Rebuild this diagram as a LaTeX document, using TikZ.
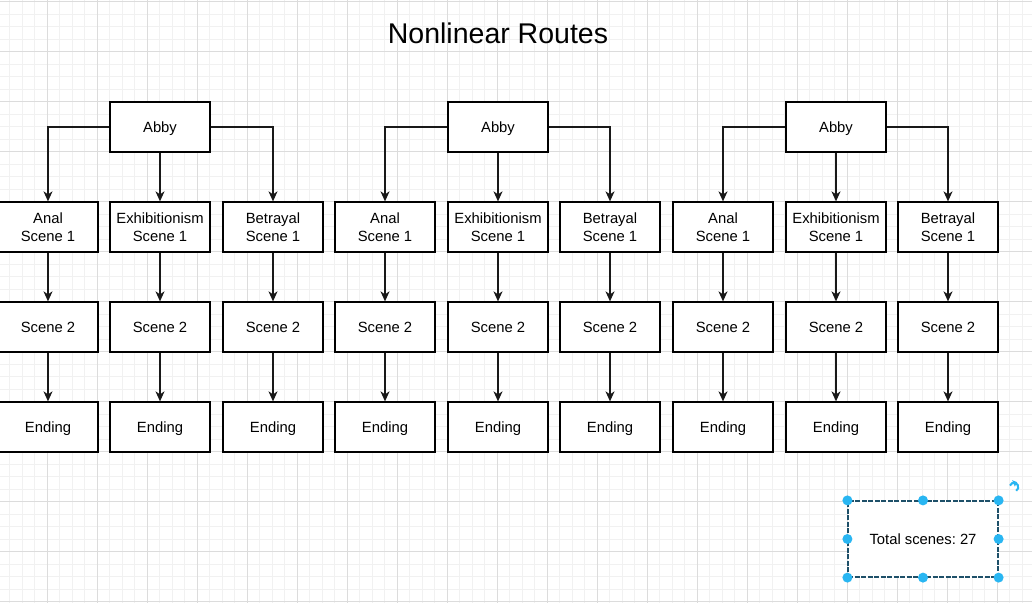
\documentclass[tikz,border=0pt]{standalone}
\usepackage{fontspec}
\setmainfont{Liberation Sans}
\usetikzlibrary{arrows.meta}
\frenchspacing
\definecolor{minorgrid}{RGB}{241,241,241}
\definecolor{majorgrid}{RGB}{220,220,220}
\definecolor{handle}{RGB}{41,182,242}
\definecolor{selborder}{RGB}{30,80,105}
\tikzset{
  box/.style={draw=black, line width=1.3pt, fill=white, minimum width=100pt, minimum height=50pt,
    inner sep=0pt, align=center, font=\fontsize{14.8}{17.6}\selectfont},
  single/.style={text height=13.4pt, text depth=3.1pt},
  conn/.style={line width=1.3pt, draw=black!90, -{Stealth[length=10pt,width=9pt,inset=3pt]}},
  hdl/.style={circle, fill=handle, minimum size=10pt, inner sep=0pt},
  titletext/.style={font=\fontsize{28.5}{34}\selectfont, inner sep=0pt},
}
\begin{document}
\begin{tikzpicture}[x=1pt,y=-1pt]
\useasboundingbox (0,0) rectangle (1032,603);
\fill[white] (0,0) rectangle (1032,603);
% grid
\foreach \i in {0,...,84} {\draw[minorgrid, line width=0.8pt] ({-2.7+12.5*\i},0) -- ({-2.7+12.5*\i},603);}
\foreach \j in {0,...,50} {\draw[minorgrid, line width=0.8pt] (0,{-10.8+12.5*\j}) -- (1032,{-10.8+12.5*\j});}
\foreach \i in {0,...,21} {\draw[majorgrid, line width=0.9pt] ({-2.7+50*\i},0) -- ({-2.7+50*\i},603);}
\foreach \j in {0,...,12} {\draw[majorgrid, line width=0.9pt] (0,{1.7+50*\j}) -- (1032,{1.7+50*\j});}

\node[titletext] (title) at (498,33) {Nonlinear Routes};

% columns
\foreach \i/\x/\lab in {0/48/Anal, 1/160/Exhibitionism, 2/273/Betrayal, 3/385/Anal, 4/498/Exhibitionism, 5/610/Betrayal, 6/723/Anal, 7/836/Exhibitionism, 8/948/Betrayal} {
  \node[box] (s1-\i) at (\x,227) {\lab\\Scene 1};
  \node[box, single] (s2-\i) at (\x,327) {Scene 2};
  \node[box, single] (e-\i)  at (\x,427) {Ending};
  \draw[conn] (s1-\i) -- (s2-\i);
  \draw[conn] (s2-\i) -- (e-\i);
}
\foreach \k/\x/\l/\m/\r in {0/160/0/1/2, 1/498/3/4/5, 2/836/6/7/8} {
  \node[box, single] (a\k) at (\x,127) {Abby};
  \draw[conn] (a\k.west) -| (s1-\l.north);
  \draw[conn] (a\k) -- (s1-\m);
  \draw[conn] (a\k.east) -| (s1-\r.north);
}

% total box (selected)
\node[box, single, draw=selborder, line width=1.2pt, dash pattern=on 5pt off 1.5pt, minimum width=150pt, minimum height=76pt] (tot) at (923,539) {Total scenes: 27};
\foreach \a in {north west, north, north east, west, east, south west, south, south east} {
  \node[hdl] (h-\a) at (tot.\a) {};
}
\draw[handle, line width=2pt] (1014,487) ++(-200:4.3pt) arc[start angle=-200, end angle=-420, radius=4.3pt];
\fill[handle] (1012.2,480.2) -- (1017.2,482.2) -- (1014.8,486.6) -- cycle;
\end{tikzpicture}
\end{document}
